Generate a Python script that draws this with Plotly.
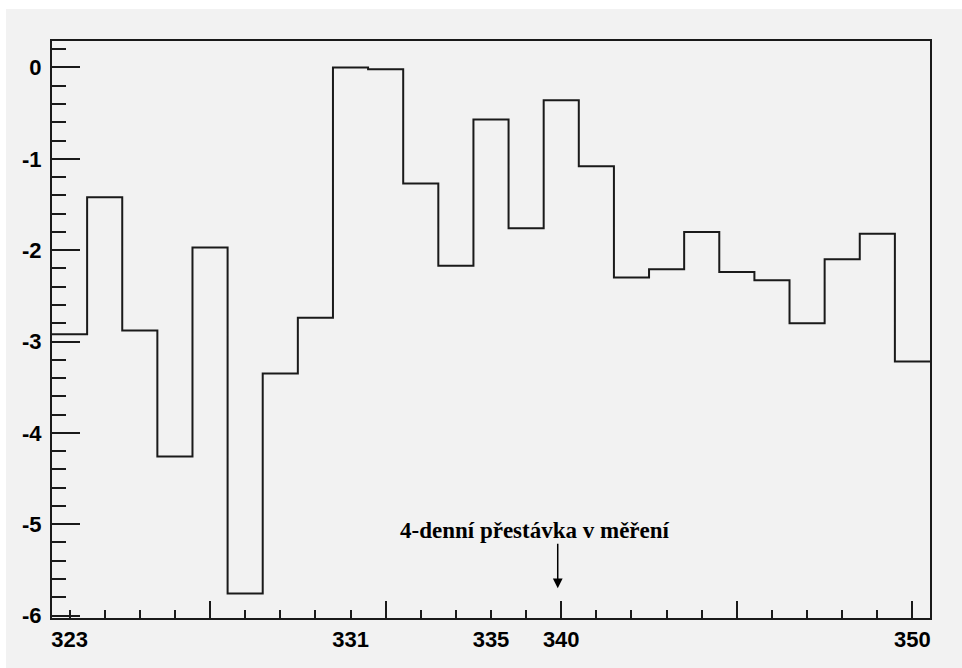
import plotly.graph_objects as go

# Days (bins) - 4-day gap in measurement after day 336
days = [323, 324, 325, 326, 327, 328, 329, 330, 331, 332, 333, 334, 335, 336,
        340, 341, 342, 343, 344, 345, 346, 347, 348, 349, 350]
values = [-2.92, -1.42, -2.88, -4.26, -1.97, -5.76, -3.35, -2.74, 0.00, -0.02,
          -1.27, -2.17, -0.57, -1.76, -0.36, -1.08, -2.30, -2.21, -1.80, -2.24,
          -2.33, -2.80, -2.10, -1.82, -3.22]
labelled_days = [323, 331, 335, 340, 350]
y_ticks = [0, -1, -2, -3, -4, -5, -6]
y_tick_text = ["0", "-1", "-2", "-3", "-4", "-5", "-6"]
note_text = "4-denní přestávka v měření"
note_day = 340

n = len(days)
idx = list(range(n))
# step histogram: left edges + final right edge
edges = [i - 0.5 for i in idx] + [n - 0.5]
step_y = values + [values[-1]]

label_pos = [days.index(d) for d in labelled_days]
major_pos = [i for i in idx if (i + 1) % 5 == 0]

W, H = 962, 668
L, R, T, B = 52, 32, 41, 50
pw, ph = W - L - R, H - T - B

def px_x(p):
    return (p - L) / pw

def px_y(p):
    return (H - B - p) / ph

LINE = "#1a1a1a"
BG = "#f2f2f2"

fig = go.Figure()
fig.add_trace(go.Scatter(x=edges, y=step_y, mode="lines", line_shape="hv",
                         line=dict(color=LINE, width=2), hoverinfo="skip",
                         showlegend=False))
fig.add_trace(go.Scatter(x=[edges[0]], y=[values[0]], xaxis="x2", mode="markers",
                         marker=dict(opacity=0), showlegend=False, hoverinfo="skip"))

xr = [-0.5, n - 0.5]
yr = [-6.027, 0.29]

fig.update_layout(
    width=W, height=H,
    margin=dict(l=L, r=R, t=T, b=B),
    paper_bgcolor=BG, plot_bgcolor=BG,
    xaxis=dict(range=xr, showgrid=False, zeroline=False,
               showline=True, linecolor=LINE, linewidth=2, mirror=True,
               tickmode="array", tickvals=major_pos, ticks="inside",
               ticklen=17, tickwidth=2, tickcolor=LINE, showticklabels=False,
               minor=dict(tickmode="array", tickvals=idx, ticks="inside",
                          ticklen=8, tickwidth=2, tickcolor=LINE)),
    xaxis2=dict(range=xr, overlaying="x", anchor="y", side="bottom",
                showgrid=False, zeroline=False, showline=False,
                tickmode="array", tickvals=label_pos,
                ticktext=[str(d) for d in labelled_days], ticks="",
                ticklabelstandoff=6,
                tickfont=dict(family="Liberation Sans", size=22, color="black",
                              weight="bold")),
    yaxis=dict(range=yr, showgrid=False, zeroline=False,
               showline=True, linecolor=LINE, linewidth=2, mirror=True,
               tickmode="array", tickvals=y_ticks, ticktext=y_tick_text,
               ticks="inside", ticklen=28, tickwidth=2, tickcolor=LINE,
               ticklabelstandoff=4,
               tickfont=dict(family="Liberation Sans", size=22, color="black",
                             weight="bold"),
               minor=dict(dtick=0.2, tick0=0, ticks="inside", ticklen=14,
                          tickwidth=2, tickcolor=LINE)),
    shapes=[
        dict(type="rect", xref="paper", yref="paper", x0=px_x(-5), x1=px_x(W + 5),
             y0=px_y(9), y1=px_y(-5), fillcolor="white", line=dict(width=0)),
        dict(type="rect", xref="paper", yref="paper", x0=px_x(-5), x1=px_x(6),
             y0=px_y(H + 5), y1=px_y(-5), fillcolor="white", line=dict(width=0)),
    ],
    annotations=[
        dict(x=days.index(note_day) - 0.76, y=-5.07, xref="x", yref="y",
             text="<b>" + note_text + "</b>", showarrow=False,
             font=dict(family="Liberation Serif", size=23, color="black")),
        dict(x=days.index(note_day) - 0.1, y=-5.70, xref="x", yref="y",
             text="", showarrow=True, ax=0, ay=-46, arrowhead=2, arrowsize=1.3,
             arrowwidth=1.5, arrowcolor="black"),
    ],
)

fig.write_html("out.html")
